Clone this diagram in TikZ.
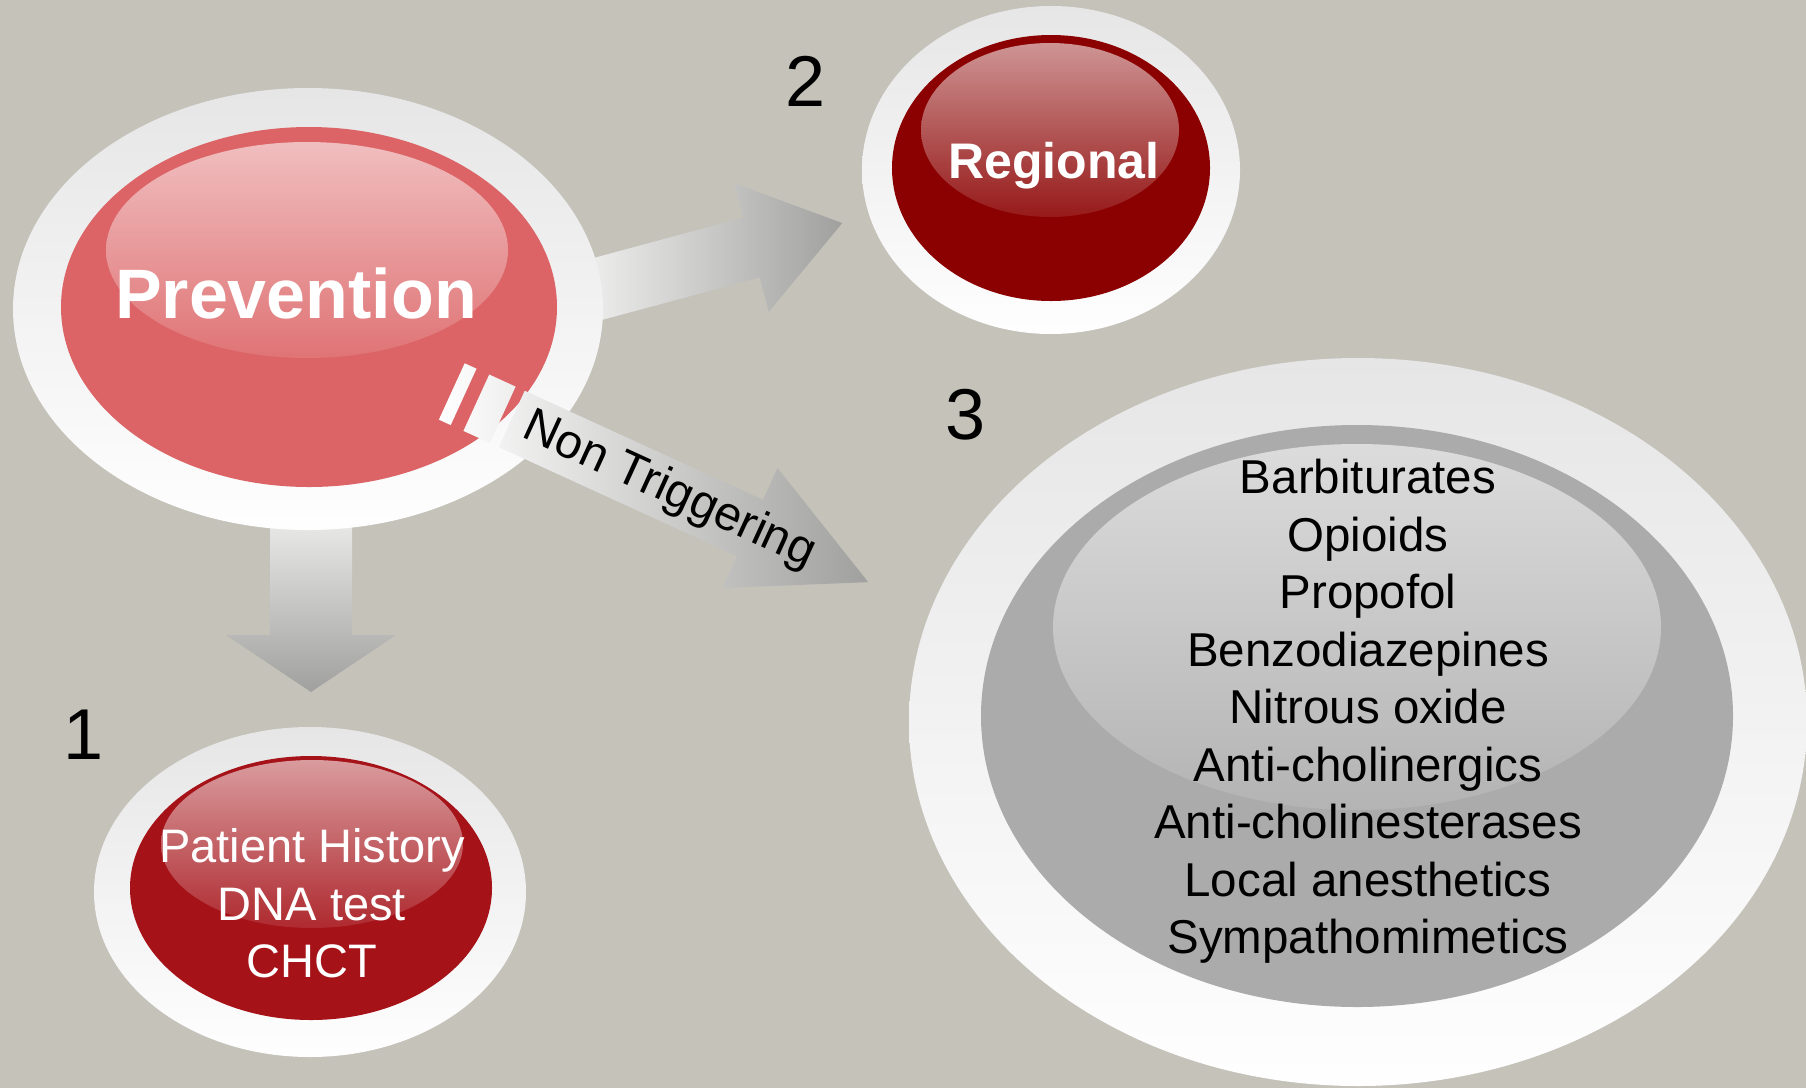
\documentclass[tikz,border=0pt]{standalone}
\usepackage{fontspec}
\setmainfont{Liberation Sans}
\usepackage{xcolor}
\usepackage{tikz}
\usetikzlibrary{shapes.geometric}
\definecolor{mhwall}{HTML}{C5C2BA}
\definecolor{mhring}{HTML}{E6E6E6}
\definecolor{mhrose}{HTML}{DC6466}
\definecolor{mhmaroon}{HTML}{8B0000}
\definecolor{mhcrimson}{HTML}{A51218}
\definecolor{mhsilver}{HTML}{ABABAB}
\definecolor{mharrow}{HTML}{A0A09E}

\begin{document}
\begin{tikzpicture}[
  x=1pt, y=-1pt,
  ring/.style={ellipse, inner sep=0pt, outer sep=0pt, top color=mhring, bottom color=white!97!mhring},
  bulb/.style={ellipse, inner sep=0pt, outer sep=0pt, fill=#1},
  gloss/.style={ellipse, inner sep=0pt, outer sep=0pt, top color=white!58!#1, bottom color=#1!90!white},
  blockarr/.style={left color=white, right color=mharrow},
  num/.style={inner sep=0pt, font=\fontsize{72}{80}\selectfont},
  lbl/.style={inner sep=0pt, align=center, font=\fontsize{#1}{57.5}\selectfont},
]
% wall
\useasboundingbox (0,0) rectangle (1806,1088);
\fill[mhwall] (0,0) rectangle (1806,1088);

% arrows that run under the rings
\coordinate (toreg) at (751.5,247.5);
\coordinate (tohist) at (311,635);
\begin{scope}[shift={(toreg)}, rotate=15.1]
  \shade[blockarr] (-220,-31) -- (0,-31) -- (0,-66.5) -- (94,0) -- (0,66.5) -- (0,31) -- (-220,31) -- cycle;
\end{scope}
\begin{scope}[shift={(tohist)}]
  \shade[top color=white, bottom color=mharrow] (-41,-165) -- (-41,0) -- (-85,0) -- (0,57) -- (85,0) -- (41,0) -- (41,-165) -- cycle;
\end{scope}

% bubbles
\node[ring, minimum width=590pt, minimum height=442pt] (prevring) at (308,309) {};
\node[bulb=mhrose, minimum width=496pt, minimum height=360pt] (prev) at (309,307) {};
\node[gloss=mhrose, minimum width=402pt, minimum height=216pt] (prevgloss) at (307,250) {};

\node[ring, minimum width=378pt, minimum height=328pt] (regring) at (1051,170) {};
\node[bulb=mhmaroon, minimum width=318pt, minimum height=266pt] (reg) at (1051,168) {};
\node[gloss=mhmaroon, minimum width=258pt, minimum height=174pt] (reggloss) at (1050,130) {};

\node[ring, minimum width=432pt, minimum height=330pt] (histring) at (310,892) {};
\node[bulb=mhcrimson, minimum width=362pt, minimum height=264pt] (hist) at (311,888) {};
\node[gloss=mhcrimson, minimum width=302pt, minimum height=168pt] (histgloss) at (312,844) {};

\node[ring, minimum width=898pt, minimum height=728pt] (drugring) at (1358,722) {};
\node[bulb=mhsilver, minimum width=752pt, minimum height=582pt] (drug) at (1357,716) {};
\node[gloss=mhsilver, minimum width=608pt, minimum height=366pt] (druggloss) at (1357,627) {};

% striped arrow on top of the first bubble
\coordinate (todrug) at (750,528);
\begin{scope}[shift={(todrug)}, rotate=-24.6]
  \shade[blockarr] (-328,-31) rectangle (-315,31) (-301,-31) rectangle (-272,31)
    (-262,-31) -- (0,-31) -- (0,-66) -- (130,0) -- (0,66) -- (0,31) -- (-262,31) -- cycle;
\end{scope}
\node[rotate=-24.6, inner sep=0pt, font=\fontsize{48}{56}\selectfont] (nontrig) at (669,491) {Non Triggering};

% texts
\node[anchor=base, inner sep=0pt, text=white, font=\fontsize{70}{84}\selectfont\bfseries] (prevtxt) at (296,318) {Prevention};
\node[anchor=base, inner sep=0pt, text=white, font=\fontsize{50}{60}\selectfont\bfseries] (regtxt) at (1054,178) {Regional};
\node[lbl=47, text=white] (histtxt) at (312,903.5) {Patient History\\DNA test\\CHCT};
\node[lbl=47.5] (drugtxt) at (1368,711.5) {Barbiturates\\Opioids\\Propofol\\Benzodiazepines\\Nitrous oxide\\Anti-cholinergics\\Anti-cholinesterases\\Local anesthetics\\Sympathomimetics};

\node[num] (n1) at (84,735) {1};
\node[num] (n2) at (806,81) {2};
\node[num] (n3) at (966,415) {3};
\end{tikzpicture}
\end{document}
